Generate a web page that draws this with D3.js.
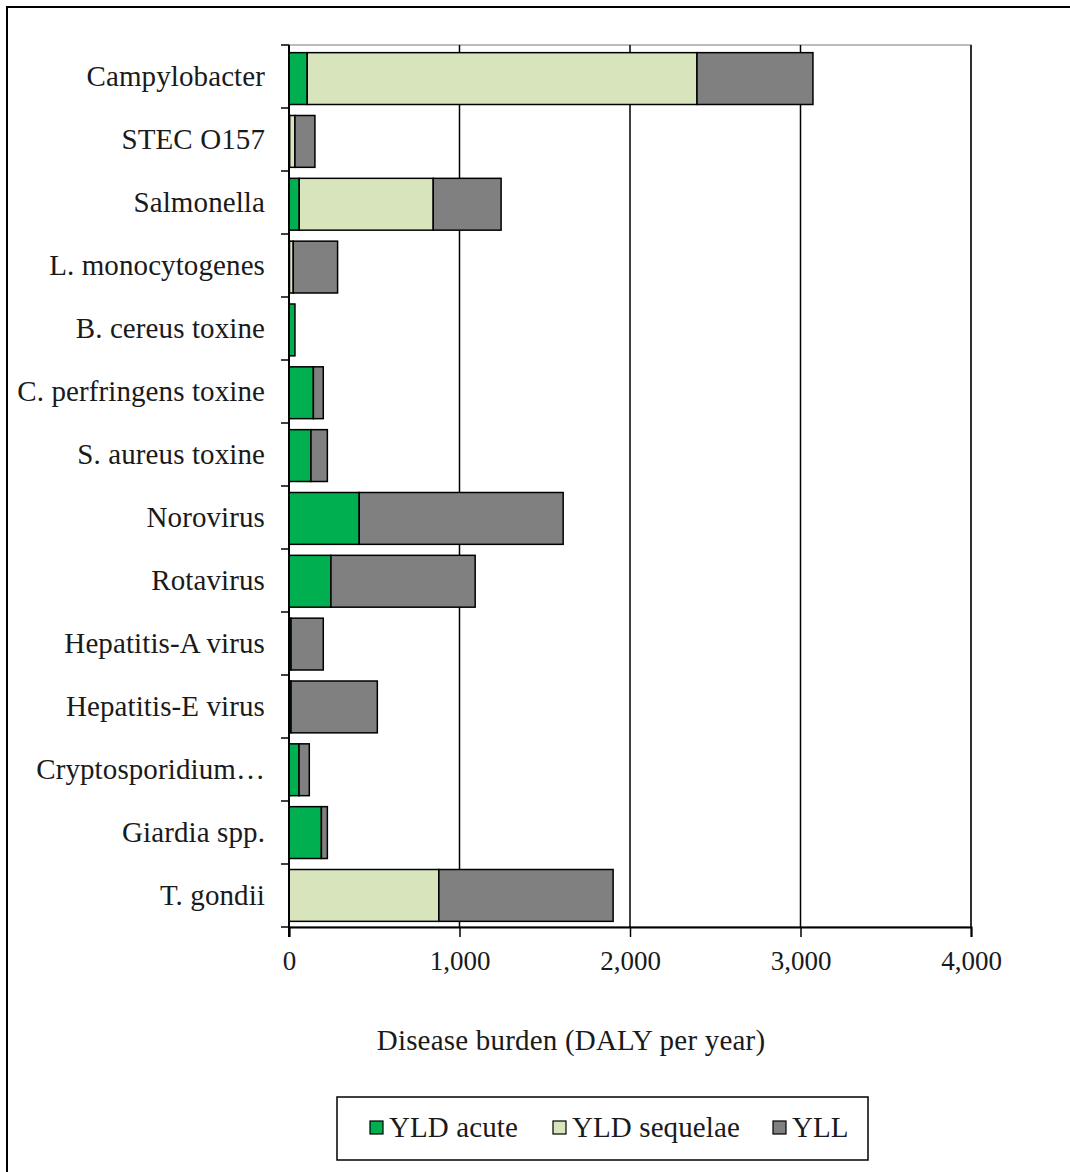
<!DOCTYPE html>
<html>
<head>
<meta charset="utf-8">
<script src="https://cdn.jsdelivr.net/npm/d3@7"></script>
<style>
  html, body { margin: 0; padding: 0; background: #fff; }
  svg { display: block; }
  text { font-family: "Liberation Serif", "Times New Roman", serif; fill: #1a1a1a; }
</style>
</head>
<body>
<svg id="chart" width="1070" height="1172"></svg>
<script>
// Pathogens, top to bottom
const categories = [
  "Campylobacter", "STEC O157", "Salmonella", "L. monocytogenes",
  "B. cereus toxine", "C. perfringens toxine", "S. aureus toxine",
  "Norovirus", "Rotavirus", "Hepatitis-A virus", "Hepatitis-E virus",
  "Cryptosporidium…", "Giardia spp.", "T. gondii"
];

// Disease burden components (DALY per year)
const yldAcute    = [107, 4, 60, 3, 35, 143, 129, 412, 246, 12, 12, 59, 190, 0];
const yldSequelae = [2286, 31, 786, 22, 0, 0, 0, 0, 0, 0, 0, 0, 0, 879];
const yll         = [680, 117, 398, 260, 0, 58, 96, 1196, 846, 189, 506, 60, 35, 1022];

const seriesNames = ["YLD acute", "YLD sequelae", "YLL"];
const seriesColors = ["#00B050", "#D8E4BC", "#808080"];
const xTicks = [0, 1000, 2000, 3000, 4000];

const svg = d3.select("#chart");
const W = 1070, H = 1172;
const plot = { left: 289, right: 971, top: 45, bottom: 927 };
const labelFont = 29;

// Outer frame
svg.append("rect")
  .attr("x", 7).attr("y", 7).attr("width", W).attr("height", H)
  .attr("fill", "none").attr("stroke", "#000").attr("stroke-width", 2);

const x = d3.scaleLinear().domain([0, 4000]).range([plot.left, plot.right]);
const y = d3.scaleBand().domain(categories).range([plot.top + 2, plot.bottom])
  .paddingInner(0.175).paddingOuter(0.09);
const yTickBand = d3.scaleBand().domain(categories).range([plot.top, plot.bottom]);

// Plot area frame
svg.append("rect")
  .attr("x", plot.left).attr("y", plot.top)
  .attr("width", plot.right - plot.left).attr("height", plot.bottom - plot.top)
  .attr("fill", "none").attr("stroke", "#a6a6a6").attr("stroke-width", 1.5);

// Vertical gridlines
svg.append("g").selectAll("line")
  .data(xTicks.slice(1))
  .join("line")
  .attr("x1", d => x(d)).attr("x2", d => x(d))
  .attr("y1", plot.top).attr("y2", plot.bottom)
  .attr("stroke", "#000").attr("stroke-width", 1.5);

// Stacked bars
const rows = categories.map((c, i) => ({
  cat: c, "YLD acute": yldAcute[i], "YLD sequelae": yldSequelae[i], "YLL": yll[i]
}));
const stacked = d3.stack().keys(seriesNames)(rows);

svg.append("g").selectAll("g")
  .data(stacked)
  .join("g")
  .attr("fill", (d, i) => seriesColors[i])
  .selectAll("rect")
  .data(d => d.filter(s => s[1] - s[0] > 0))
  .join("rect")
  .attr("x", d => x(d[0]))
  .attr("y", d => y(d.data.cat))
  .attr("width", d => x(d[1]) - x(d[0]))
  .attr("height", y.bandwidth())
  .attr("stroke", "#000").attr("stroke-width", 1.5);

// X axis
const xAxis = d3.axisBottom(x)
  .tickValues(xTicks)
  .tickFormat(d3.format(","))
  .tickSize(10)
  .tickPadding(14);
const gx = svg.append("g")
  .attr("transform", `translate(0,${plot.bottom})`)
  .call(xAxis);
gx.select(".domain").attr("stroke", "#000").attr("stroke-width", 2);
gx.selectAll(".tick line").attr("stroke", "#000").attr("stroke-width", 1.5);
gx.selectAll(".tick text")
  .attr("font-size", 27).attr("fill", "#1a1a1a")
  .style("font-family", '"Liberation Serif", serif');

// Y axis: ticks sit on band boundaries, labels centred in each band
svg.append("line")
  .attr("x1", plot.left).attr("x2", plot.left)
  .attr("y1", plot.top).attr("y2", plot.bottom + 10)
  .attr("stroke", "#000").attr("stroke-width", 2);
const boundaries = categories.map(c => yTickBand(c)).concat([plot.bottom]);
svg.append("g").selectAll("line")
  .data(boundaries)
  .join("line")
  .attr("x1", plot.left - 8).attr("x2", plot.left)
  .attr("y1", d => d).attr("y2", d => d)
  .attr("stroke", "#000").attr("stroke-width", 1.5);

svg.append("g").selectAll("text")
  .data(categories)
  .join("text")
  .attr("x", 265)
  .attr("y", d => yTickBand(d) + yTickBand.bandwidth() / 2 + 3)
  .attr("text-anchor", "end")
  .attr("dominant-baseline", "middle")
  .attr("font-size", labelFont)
  .attr("letter-spacing", 0.1)
  .text(d => d);

// Axis title
svg.append("text")
  .attr("x", 571).attr("y", 1043)
  .attr("text-anchor", "middle")
  .attr("dominant-baseline", "middle")
  .attr("font-size", labelFont)
  .attr("letter-spacing", 0.2)
  .text("Disease burden (DALY per year)");

// Legend
const legend = svg.append("g");
legend.append("rect")
  .attr("x", 337).attr("y", 1097).attr("width", 531).attr("height", 63)
  .attr("fill", "#fff").attr("stroke", "#000").attr("stroke-width", 1.5);
const legendX = [370, 553, 773];
const items = legend.selectAll("g.item")
  .data(seriesNames)
  .join("g").attr("class", "item")
  .attr("transform", (d, i) => `translate(${legendX[i]},1128)`);
items.append("rect")
  .attr("x", 0).attr("y", -7).attr("width", 13).attr("height", 13)
  .attr("fill", (d, i) => seriesColors[i])
  .attr("stroke", "#000").attr("stroke-width", 1.2);
items.append("text")
  .attr("x", 19).attr("y", 2)
  .attr("dominant-baseline", "middle")
  .attr("font-size", labelFont)
  .attr("letter-spacing", 0.1)
  .text(d => d);
</script>
</body>
</html>
